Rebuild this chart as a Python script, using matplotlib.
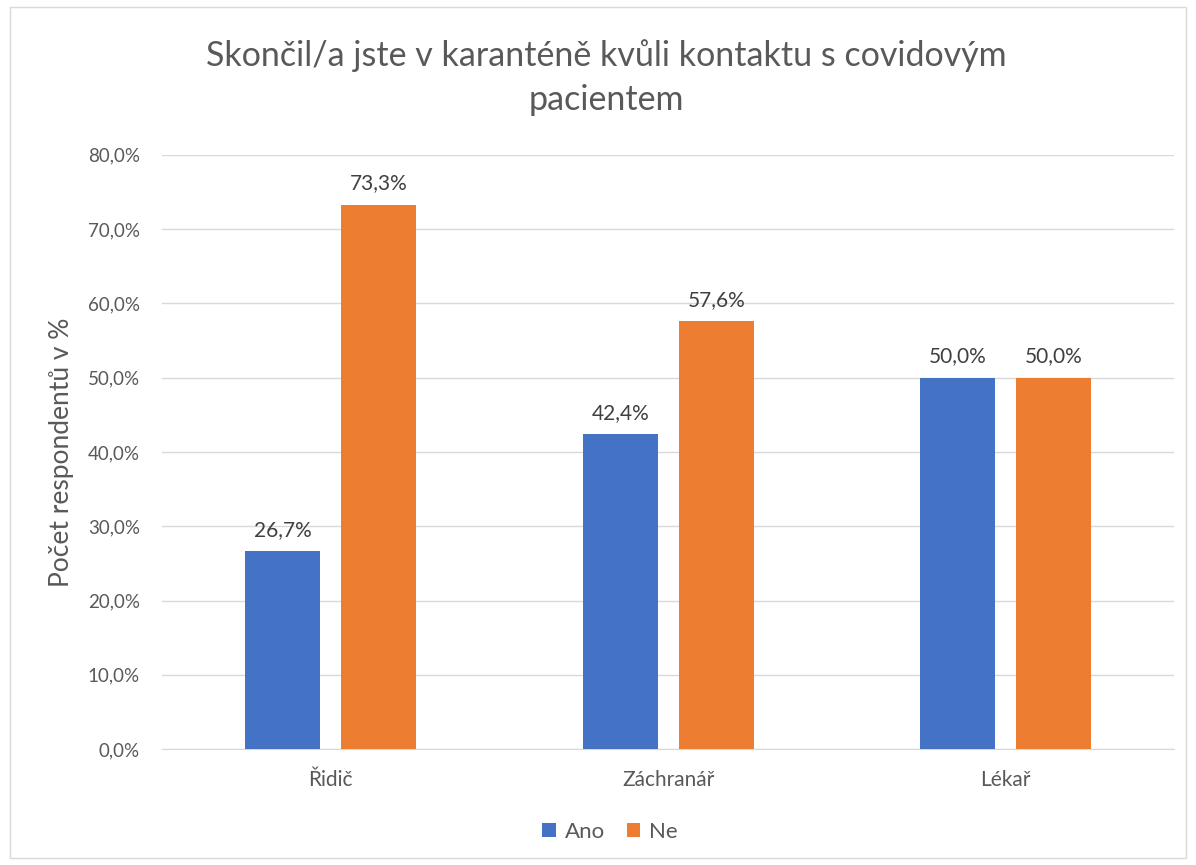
import matplotlib.pyplot as plt
import numpy as np
from matplotlib.patches import Rectangle

categories = ["Řidič", "Záchranář", "Lékař"]
ano = [26.7, 42.4, 50.0]
ne = [73.3, 57.6, 50.0]
series_names = ["Ano", "Ne"]
yticks = [0, 10, 20, 30, 40, 50, 60, 70, 80]

BLUE = "#4472C4"
ORANGE = "#ED7D31"
TEXT = "#595959"

plt.rcParams["font.family"] = ["Lato", "DejaVu Sans"]

fig = plt.figure(figsize=(11.96, 8.65), dpi=100)
ax = fig.add_axes([0.1355, 0.134, 0.8465, 0.687])

# light chart border
fig.patches.append(Rectangle((0.008, 0.008), 0.984, 0.984, transform=fig.transFigure,
                             fill=False, edgecolor="#D9D9D9", linewidth=1))

x = np.arange(len(categories))
w = 0.222
off = 0.142
b1 = ax.bar(x - off, ano, w, color=BLUE, label=series_names[0], zorder=3)
b2 = ax.bar(x + off, ne, w, color=ORANGE, label=series_names[1], zorder=3)

for bars in (b1, b2):
    for r in bars:
        v = r.get_height()
        ax.annotate(f"{v:.1f}%".replace(".", ","), (r.get_x() + r.get_width() / 2, v),
                    xytext=(0, 8), textcoords="offset points", ha="center", va="bottom",
                    fontsize=15, color="#404040")

ax.set_xlim(-0.5, 2.5)
ax.set_ylim(0, 80)
ax.set_yticks(yticks)
ax.set_yticklabels([f"{t:.1f}%".replace(".", ",") for t in yticks], fontsize=13.5, color=TEXT)
ax.set_xticks(x)
ax.set_xticklabels(categories, fontsize=15, color=TEXT)
ax.tick_params(axis="y", length=0, pad=16)
ax.tick_params(axis="x", length=0, pad=15)
ax.grid(axis="y", color="#D9D9D9", linewidth=1, zorder=0)
for s in ["top", "right", "left"]:
    ax.spines[s].set_visible(False)
ax.spines["bottom"].set_color("#D9D9D9")
ax.set_ylabel("Počet respondentů v %", fontsize=19, color=TEXT, labelpad=10)

fig.text(0.507, 0.91, "Skončil/a jste v karanténě kvůli kontaktu s covidovým\npacientem",
         ha="center", va="center", fontsize=24.5, color=TEXT, linespacing=1.45)

fig.legend(loc="center", bbox_to_anchor=(0.51, 0.038), ncol=2, frameon=False,
           fontsize=16, handlelength=0.6, handleheight=0.6, columnspacing=1.0,
           handletextpad=0.4, labelcolor=TEXT)

fig.savefig("out.png", dpi=100)
